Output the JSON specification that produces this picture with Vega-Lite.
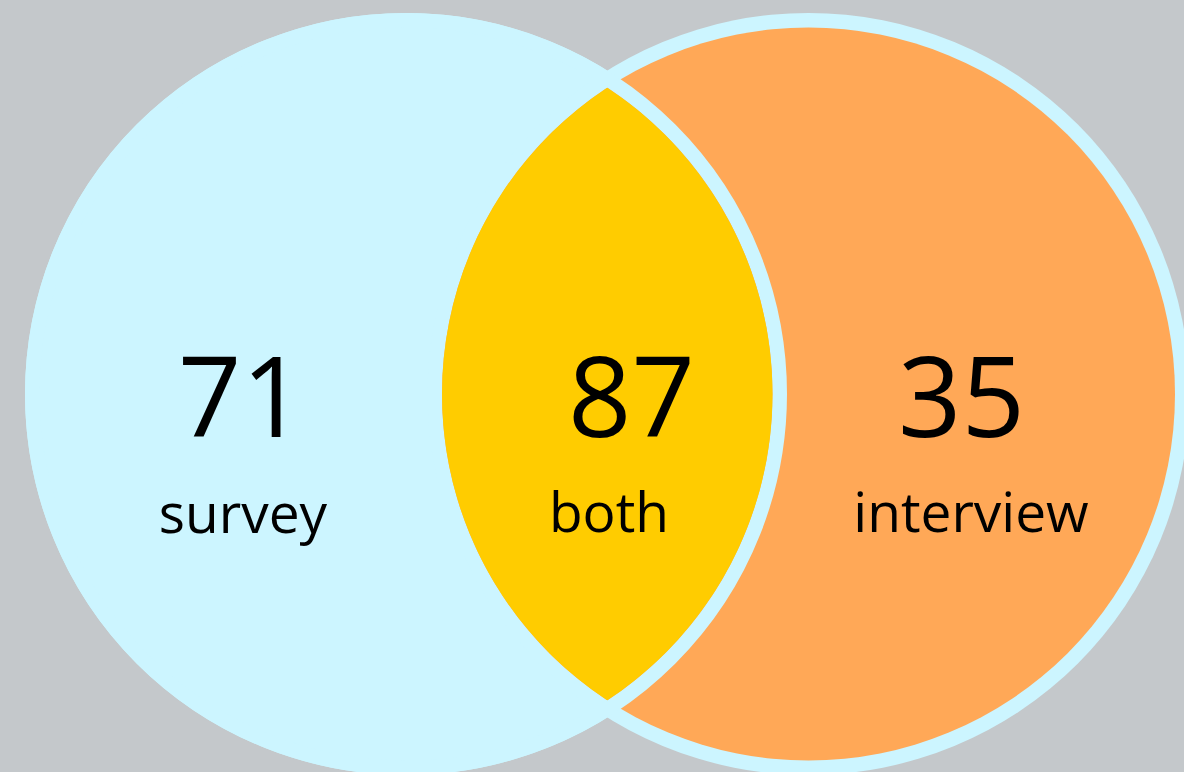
{
  "$schema": "https://vega.github.io/schema/vega-lite/v6.json",
  "width": 1184,
  "height": 772,
  "autosize": "none",
  "padding": 0,
  "background": "#c4c8cb",
  "config": {"view": {"stroke": null}},
  "datasets": {
    "circles": [
      {"set": "survey", "cx": 406, "cy": 394},
      {"set": "interview", "cx": 808.5, "cy": 394}
    ],
    "overlap": [
      {"set": "both", "cx": 607.25, "cy": 394}
    ],
    "labels": [
      {"text": "71", "kind": "count", "x": 241.5, "y": 437},
      {"text": "survey", "kind": "name", "x": 243, "y": 533},
      {"text": "87", "kind": "count", "x": 631.5, "y": 437},
      {"text": "both", "kind": "name", "x": 609, "y": 532},
      {"text": "35", "kind": "count", "x": 961.5, "y": 437},
      {"text": "interview", "kind": "name", "x": 971, "y": 532}
    ]
  },
  "encoding": {
    "x": {"field": "cx", "type": "quantitative", "scale": {"domain": [0, 1184], "nice": false, "zero": false}, "axis": null},
    "y": {"field": "cy", "type": "quantitative", "scale": {"domain": [772, 0], "nice": false, "zero": false}, "axis": null}
  },
  "layer": [
    {
      "data": {"name": "circles"},
      "mark": {"type": "point", "shape": "circle", "filled": true, "color": "#ccf5ff", "opacity": 1, "size": 580644, "strokeWidth": 0, "clip": true}
    },
    {
      "data": {"name": "circles"},
      "transform": [{"filter": "datum.set === 'interview'"}],
      "mark": {"type": "point", "shape": "circle", "filled": true, "color": "#ffa857", "opacity": 1, "size": 537289, "strokeWidth": 0, "clip": true}
    },
    {
      "data": {"name": "circles"},
      "transform": [{"filter": "datum.set === 'survey'"}],
      "mark": {"type": "point", "shape": "circle", "filled": false, "color": "#ccf5ff", "opacity": 1, "size": 558756, "strokeWidth": 14.5, "clip": true}
    },
    {
      "data": {"name": "overlap"},
      "mark": {"type": "point", "shape": "M0,-3.063A3.665,3.665,0,0,1,0,3.063A3.665,3.665,0,0,1,0,-3.063Z", "filled": true, "color": "#ffcc00", "opacity": 1, "size": 40000, "strokeWidth": 0, "clip": true}
    },
    {
      "data": {"name": "labels"},
      "transform": [{"filter": "datum.kind === 'count'"}],
      "mark": {"type": "text", "align": "center", "baseline": "alphabetic", "font": "Open Sans", "fontSize": 111, "color": "#000000"},
      "encoding": {
        "x": {"field": "x", "type": "quantitative"},
        "y": {"field": "y", "type": "quantitative"},
        "text": {"field": "text"}
      }
    },
    {
      "data": {"name": "labels"},
      "transform": [{"filter": "datum.kind === 'name'"}],
      "mark": {"type": "text", "align": "center", "baseline": "alphabetic", "font": "Open Sans", "fontSize": 55, "color": "#000000"},
      "encoding": {
        "x": {"field": "x", "type": "quantitative"},
        "y": {"field": "y", "type": "quantitative"},
        "text": {"field": "text"}
      }
    }
  ]
}
